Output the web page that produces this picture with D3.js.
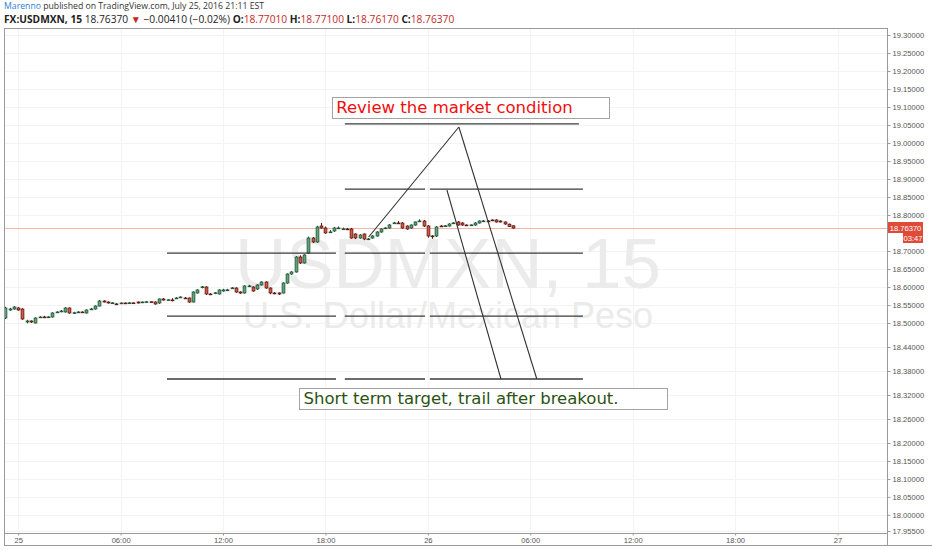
<!DOCTYPE html>
<html>
<head>
<meta charset="utf-8">
<script src="https://cdn.jsdelivr.net/npm/d3@7"></script>
<style>
    body { margin: 0; background: #fff; }
    svg { display: block; }
</style>
</head>
<body>
<div id="chart"></div>
<script>
// FX:USDMXN, 15 minute bars, first bar at 2016-07-24 23:15 (chart time)
var firstBar = "2016-07-24T23:15:00Z",
    barMinutes = 15;

var opens = [
    18.5139, 18.5361, 18.5389, 18.5417, 18.5389, 18.5028, 18.5056, 18.5000, 18.5150, 18.5167,
    18.5160, 18.5167, 18.5290, 18.5310, 18.5306, 18.5417, 18.5278, 18.5300, 18.5306, 18.5278,
    18.5380, 18.5389, 18.5472, 18.5611, 18.5583, 18.5556, 18.5530, 18.5550, 18.5556, 18.5550,
    18.5560, 18.5583, 18.5580, 18.5583, 18.5590, 18.5583, 18.5556, 18.5667, 18.5639, 18.5640,
    18.5690, 18.5715, 18.5694, 18.5694, 18.5583, 18.5833, 18.6000, 18.6000, 18.5806, 18.5833,
    18.5806, 18.5889, 18.5917, 18.5972, 18.5972, 18.5861, 18.5833, 18.6028, 18.6000, 18.5944,
    18.6056, 18.6139, 18.5972, 18.5833, 18.5833, 18.5833, 18.6111, 18.6361, 18.6417, 18.6833,
    18.6667, 18.6944, 18.7361, 18.7250, 18.7694, 18.7639, 18.7528, 18.7556, 18.7639, 18.7611,
    18.7611, 18.7611, 18.7472, 18.7361, 18.7472, 18.7333, 18.7361, 18.7417, 18.7528, 18.7639,
    18.7639, 18.7778, 18.7778, 18.7778, 18.7694, 18.7639, 18.7722, 18.7833, 18.7833, 18.7694,
    18.7417, 18.7417, 18.7694, 18.7694, 18.7694, 18.7778, 18.7806, 18.7778, 18.7722, 18.7722,
    18.7722, 18.7778, 18.7833, 18.7833, 18.7861, 18.7861, 18.7833, 18.7806, 18.7745, 18.7701
];

var highs = [
    18.5450, 18.5420, 18.5470, 18.5440, 18.5410, 18.5090, 18.5070, 18.5160, 18.5190, 18.5200,
    18.5190, 18.5300, 18.5330, 18.5360, 18.5440, 18.5430, 18.5310, 18.5330, 18.5320, 18.5380,
    18.5420, 18.5490, 18.5640, 18.5630, 18.5600, 18.5580, 18.5550, 18.5570, 18.5570, 18.5580,
    18.5570, 18.5600, 18.5600, 18.5610, 18.5600, 18.5600, 18.5680, 18.5690, 18.5660, 18.5690,
    18.5720, 18.5740, 18.5720, 18.5710, 18.5880, 18.5940, 18.6030, 18.6020, 18.5830, 18.5860,
    18.5940, 18.5950, 18.5950, 18.6000, 18.5990, 18.5880, 18.6050, 18.6060, 18.6020, 18.6080,
    18.6160, 18.6160, 18.5990, 18.5860, 18.5850, 18.6130, 18.6380, 18.6440, 18.6860, 18.6880,
    18.6910, 18.7400, 18.7390, 18.7700, 18.7780, 18.7680, 18.7580, 18.7670, 18.7680, 18.7650,
    18.7640, 18.7640, 18.7490, 18.7470, 18.7490, 18.7360, 18.7440, 18.7550, 18.7630, 18.7660,
    18.7750, 18.7810, 18.7830, 18.7800, 18.7710, 18.7740, 18.7820, 18.7880, 18.7860, 18.7720,
    18.7440, 18.7690, 18.7720, 18.7720, 18.7770, 18.7800, 18.7830, 18.7800, 18.7740, 18.7740,
    18.7800, 18.7850, 18.7860, 18.7860, 18.7880, 18.7880, 18.7850, 18.7820, 18.7760, 18.7710
];

var lows = [
    18.5110, 18.5340, 18.5370, 18.5340, 18.5090, 18.4990, 18.5000, 18.4990, 18.5140, 18.5140,
    18.5150, 18.5150, 18.5280, 18.5300, 18.5290, 18.5260, 18.5260, 18.5280, 18.5280, 18.5260,
    18.5360, 18.5370, 18.5460, 18.5570, 18.5540, 18.5540, 18.5510, 18.5540, 18.5530, 18.5540,
    18.5540, 18.5540, 18.5570, 18.5570, 18.5570, 18.5510, 18.5530, 18.5620, 18.5620, 18.5600,
    18.5670, 18.5700, 18.5670, 18.5560, 18.5570, 18.5820, 18.5960, 18.5780, 18.5780, 18.5800,
    18.5790, 18.5870, 18.5890, 18.5950, 18.5840, 18.5810, 18.5820, 18.6000, 18.5870, 18.5920,
    18.6040, 18.5950, 18.5800, 18.5800, 18.5780, 18.5820, 18.6090, 18.6340, 18.6400, 18.6640,
    18.6650, 18.6920, 18.7220, 18.7230, 18.7620, 18.7480, 18.7500, 18.7530, 18.7610, 18.7590,
    18.7590, 18.7340, 18.7330, 18.7340, 18.7300, 18.7310, 18.7340, 18.7400, 18.7510, 18.7620,
    18.7620, 18.7750, 18.7750, 18.7620, 18.7590, 18.7620, 18.7700, 18.7810, 18.7670, 18.7370,
    18.7340, 18.7390, 18.7670, 18.7670, 18.7680, 18.7750, 18.7700, 18.7700, 18.7700, 18.7700,
    18.7700, 18.7760, 18.7810, 18.7810, 18.7840, 18.7790, 18.7790, 18.7730, 18.7670, 18.7617
];

var closes = [
    18.5417, 18.5389, 18.5444, 18.5361, 18.5111, 18.5056, 18.5028, 18.5139, 18.5167, 18.5160,
    18.5170, 18.5278, 18.5306, 18.5333, 18.5417, 18.5278, 18.5285, 18.5306, 18.5300, 18.5361,
    18.5389, 18.5472, 18.5611, 18.5583, 18.5556, 18.5560, 18.5528, 18.5556, 18.5550, 18.5560,
    18.5556, 18.5556, 18.5583, 18.5590, 18.5583, 18.5528, 18.5667, 18.5639, 18.5645, 18.5630,
    18.5694, 18.5722, 18.5690, 18.5583, 18.5861, 18.5917, 18.6005, 18.5806, 18.5800, 18.5840,
    18.5917, 18.5917, 18.5920, 18.5975, 18.5861, 18.5833, 18.6028, 18.6030, 18.5889, 18.6056,
    18.6139, 18.5972, 18.5833, 18.5830, 18.5806, 18.6111, 18.6361, 18.6417, 18.6833, 18.6667,
    18.6889, 18.7361, 18.7250, 18.7667, 18.7639, 18.7500, 18.7530, 18.7639, 18.7640, 18.7615,
    18.7610, 18.7361, 18.7361, 18.7444, 18.7333, 18.7335, 18.7417, 18.7528, 18.7611, 18.7640,
    18.7722, 18.7780, 18.7775, 18.7639, 18.7611, 18.7722, 18.7806, 18.7835, 18.7694, 18.7417,
    18.7410, 18.7667, 18.7690, 18.7700, 18.7750, 18.7780, 18.7722, 18.7722, 18.7720, 18.7725,
    18.7778, 18.7833, 18.7835, 18.7830, 18.7860, 18.7806, 18.7806, 18.7750, 18.7678, 18.7637
];

// price scale labels as printed on the chart (18.75 sits under the last-price tag)
var priceTicks = [19.30, 19.25, 19.20, 19.15, 19.10, 19.05, 19.00, 18.95, 18.90, 18.85,
    18.80, 18.70, 18.65, 18.60, 18.55, 18.50, 18.44, 18.38, 18.32,
    18.26, 18.20, 18.15, 18.10, 18.05, 18.00, 17.955];

var timeTicks = ["2016-07-25T00:00:00Z", "2016-07-25T06:00:00Z", "2016-07-25T12:00:00Z",
    "2016-07-25T18:00:00Z", "2016-07-26T00:00:00Z", "2016-07-26T06:00:00Z",
    "2016-07-26T12:00:00Z", "2016-07-26T18:00:00Z", "2016-07-27T00:00:00Z"];
var timeLabels = ["25", "06:00", "12:00", "18:00", "26", "06:00", "12:00", "18:00", "27"];

// horizontal levels drawn by the author (price, from, to)
var levelPrice = [19.053, 18.872, 18.872, 18.694, 18.694, 18.694,
    18.519, 18.519, 18.519, 18.36, 18.36, 18.36];
var levelFrom = ["2016-07-25T19:08:00Z", "2016-07-25T19:08:00Z", "2016-07-26T00:07:00Z",
    "2016-07-25T08:43:00Z", "2016-07-25T19:08:00Z", "2016-07-26T00:07:00Z",
    "2016-07-25T08:43:00Z", "2016-07-25T19:08:00Z", "2016-07-26T00:07:00Z",
    "2016-07-25T08:43:00Z", "2016-07-25T19:08:00Z", "2016-07-26T00:07:00Z"];
var levelTo = ["2016-07-26T08:51:00Z", "2016-07-25T23:50:00Z", "2016-07-26T09:05:00Z",
    "2016-07-25T18:37:00Z", "2016-07-25T23:50:00Z", "2016-07-26T09:05:00Z",
    "2016-07-25T18:37:00Z", "2016-07-25T23:50:00Z", "2016-07-26T09:05:00Z",
    "2016-07-25T18:37:00Z", "2016-07-25T23:50:00Z", "2016-07-26T09:05:00Z"];

// trend lines (t1, p1) -> (t2, p2)
var trendT1 = ["2016-07-25T20:32:00Z", "2016-07-26T01:49:00Z", "2016-07-26T01:07:00Z"];
var trendP1 = [18.7389, 19.0444, 18.8694];
var trendT2 = ["2016-07-26T01:49:00Z", "2016-07-26T06:23:00Z", "2016-07-26T04:17:00Z"];
var trendP2 = [19.0444, 18.36, 18.36];

// text notes: box from (t1, p1) top-left to (t2, p2) bottom-right
var noteText = ["Review the market condition", "Short term target, trail after breakout."];
var noteT1 = ["2016-07-25T18:22:00Z", "2016-07-25T16:27:00Z"];
var noteP1 = [19.128, 18.3375];
var noteT2 = ["2016-07-26T10:36:00Z", "2016-07-26T14:00:00Z"];
var noteP2 = [19.069, 18.285];

var symbol = "FX:USDMXN, 15",
    author = "Marenno",
    published = " published on TradingView.com, July 25, 2016 21:11 EST",
    countdown = "03:47",
    watermark = "USDMXN, 15",
    description = "U.S. Dollar/Mexican Peso";

(function () {
    var width = 932,
        height = 550,
        plot = {left: 4, right: 887, top: 28, bottom: 533},
        upColor = "#5fa27a", upLine = "#225437",
        downColor = "#d75442", downLine = "#5b1a13",
        noteColors = ["#f20d0d", "#2b5212"],
        axisFont = "Liberation Sans, Arial, sans-serif";

    var parse = function (s) { return new Date(s); };

    var bars = closes.map(function (c, i) {
        return {
            t: new Date(parse(firstBar).getTime() + i * barMinutes * 60000),
            o: opens[i], h: highs[i], l: lows[i], c: c
        };
    });
    var last = bars[bars.length - 1],
        prev = bars[bars.length - 2];

    var x = d3.scaleUtc()
        .domain([parse("2016-07-24T23:10:00Z"), parse("2016-07-27T02:54:00Z")])
        .range([plot.left, plot.right]);

    // the printed price scale is not evenly spaced, so use a piecewise scale
    var y = d3.scaleLinear()
        .domain([17.955, 18.20, 18.50, 19.30])
        .range([531, 443, 323, 35]);

    var svg = d3.select("#chart").append("svg")
        .attr("width", width)
        .attr("height", height)
        .style("font-family", axisFont);

    svg.append("rect").attr("width", width).attr("height", height).attr("fill", "#fff");

    svg.append("clipPath").attr("id", "plotclip")
        .append("rect")
        .attr("x", plot.left).attr("y", plot.top)
        .attr("width", plot.right - plot.left).attr("height", plot.bottom - plot.top);

    var chart = svg.append("g").attr("clip-path", "url(#plotclip)");

    // grid
    chart.append("g").selectAll("line")
        .data(priceTicks).enter().append("line")
        .attr("x1", plot.left).attr("x2", plot.right)
        .attr("y1", function (d) { return Math.round(y(d)) + 0.5; })
        .attr("y2", function (d) { return Math.round(y(d)) + 0.5; })
        .attr("stroke", "#f3f3f3");

    chart.append("g").selectAll("line")
        .data(timeTicks).enter().append("line")
        .attr("y1", plot.top).attr("y2", plot.bottom)
        .attr("x1", function (d) { return Math.round(x(parse(d))) + 0.5; })
        .attr("x2", function (d) { return Math.round(x(parse(d))) + 0.5; })
        .attr("stroke", "#f3f3f3");

    // watermark
    chart.append("text")
        .attr("x", 448).attr("y", 288)
        .attr("text-anchor", "middle")
        .attr("font-size", 71)
        .attr("fill", "#ebebeb")
        .text(watermark);
    chart.append("text")
        .attr("x", 448).attr("y", 328)
        .attr("text-anchor", "middle")
        .attr("font-size", 36)
        .attr("fill", "#ebebeb")
        .text(description);

    // last price line
    chart.append("line")
        .attr("x1", plot.left).attr("x2", plot.right)
        .attr("y1", Math.round(y(last.c)) + 0.5).attr("y2", Math.round(y(last.c)) + 0.5)
        .attr("stroke", "#f6b4aa");

    // candles
    var candle = chart.append("g").selectAll("g")
        .data(bars).enter().append("g");

    candle.append("line")
        .attr("x1", function (d) { return Math.round(x(d.t)) + 0.5; })
        .attr("x2", function (d) { return Math.round(x(d.t)) + 0.5; })
        .attr("y1", function (d) { return y(d.h); })
        .attr("y2", function (d) { return y(d.l); })
        .attr("stroke", function (d) { return d.c >= d.o ? upLine : downLine; });

    candle.append("rect")
        .attr("x", function (d) { return Math.round(x(d.t)) - 0.9; })
        .attr("width", 2.8)
        .attr("y", function (d) { return Math.min(y(d.o), y(d.c)); })
        .attr("height", function (d) { return Math.max(0.8, Math.abs(y(d.o) - y(d.c))); })
        .attr("fill", function (d) { return d.c >= d.o ? upColor : downColor; })
        .attr("stroke", function (d) { return d.c >= d.o ? upLine : downLine; })
        .attr("stroke-width", 0.8);

    // levels
    chart.append("g").selectAll("line")
        .data(levelPrice).enter().append("line")
        .attr("x1", function (d, i) { return x(parse(levelFrom[i])); })
        .attr("x2", function (d, i) { return x(parse(levelTo[i])); })
        .attr("y1", function (d) { return y(d); })
        .attr("y2", function (d) { return y(d); })
        .attr("stroke", "#3a3a3a")
        .attr("stroke-width", 1.4);

    // trend lines
    chart.append("g").selectAll("line")
        .data(trendP1).enter().append("line")
        .attr("x1", function (d, i) { return x(parse(trendT1[i])); })
        .attr("y1", function (d) { return y(d); })
        .attr("x2", function (d, i) { return x(parse(trendT2[i])); })
        .attr("y2", function (d, i) { return y(trendP2[i]); })
        .attr("stroke", "#333")
        .attr("stroke-width", 1.1);

    // notes
    var note = chart.append("g").selectAll("g")
        .data(noteText).enter().append("g");

    note.append("rect")
        .attr("x", function (d, i) { return Math.round(x(parse(noteT1[i]))) + 0.5; })
        .attr("y", function (d, i) { return Math.round(y(noteP1[i])) + 0.5; })
        .attr("width", function (d, i) { return Math.round(x(parse(noteT2[i])) - x(parse(noteT1[i]))); })
        .attr("height", function (d, i) { return Math.round(y(noteP2[i]) - y(noteP1[i])); })
        .attr("fill", "#fff")
        .attr("stroke", "#a3a3a3");

    note.append("text")
        .attr("x", function (d, i) { return x(parse(noteT1[i])) + 4.5; })
        .attr("y", function (d, i) { return y(noteP2[i]) - 5; })
        .attr("font-family", "DejaVu Sans, Verdana, sans-serif")
        .attr("font-size", 16.5)
        .attr("fill", function (d, i) { return noteColors[i]; })
        .text(function (d) { return d; });

    // frame
    svg.append("rect")
        .attr("x", plot.left + 0.5).attr("y", plot.top + 0.5)
        .attr("width", plot.right - plot.left).attr("height", plot.bottom - plot.top)
        .attr("fill", "none")
        .attr("stroke", "#9a9a9a");
    svg.append("line")
        .attr("x1", plot.left + 0.5).attr("x2", width)
        .attr("y1", 545.5).attr("y2", 545.5)
        .attr("stroke", "#9a9a9a");
    svg.append("line")
        .attr("x1", plot.left + 0.5).attr("x2", plot.left + 0.5)
        .attr("y1", plot.bottom).attr("y2", 546)
        .attr("stroke", "#9a9a9a");

    // price axis
    var yAxis = d3.axisRight(y)
        .tickValues(priceTicks)
        .tickFormat(d3.format(".5f"))
        .tickSize(3)
        .tickPadding(2);

    var ya = svg.append("g")
        .attr("transform", "translate(" + (plot.right + 0.5) + ",0)")
        .call(yAxis);
    ya.select(".domain").attr("stroke", "#9a9a9a").attr("d", "M0," + plot.top + "V546");
    ya.selectAll(".tick line").attr("stroke", "#9a9a9a");
    ya.selectAll(".tick text")
        .attr("fill", "#555")
        .attr("font-size", 7.6)
        .attr("font-family", axisFont);

    // time axis
    var xAxis = d3.axisBottom(x)
        .tickValues(timeTicks.map(parse))
        .tickFormat(function (d, i) { return timeLabels[i]; })
        .tickSize(2)
        .tickPadding(2);

    var xa = svg.append("g")
        .attr("transform", "translate(0," + (plot.bottom + 0.5) + ")")
        .call(xAxis);
    xa.select(".domain").remove();
    xa.selectAll(".tick line").attr("stroke", "#9a9a9a");
    xa.selectAll(".tick text")
        .attr("fill", "#555")
        .attr("font-size", 7.6)
        .attr("font-family", axisFont);

    // last price label + countdown
    var ly = Math.round(y(last.c));
    svg.append("rect")
        .attr("x", plot.right + 1).attr("y", ly - 6)
        .attr("width", 35).attr("height", 11)
        .attr("fill", "#df4b38");
    svg.append("text")
        .attr("x", plot.right + 18.5).attr("y", ly + 2.5)
        .attr("text-anchor", "middle")
        .attr("font-size", 7.6)
        .attr("fill", "#fff")
        .text(d3.format(".5f")(last.c));
    svg.append("rect")
        .attr("x", plot.right + 16).attr("y", ly + 5)
        .attr("width", 20).attr("height", 10)
        .attr("fill", "#df4b38");
    svg.append("text")
        .attr("x", plot.right + 26).attr("y", ly + 12.5)
        .attr("text-anchor", "middle")
        .attr("font-size", 7.6)
        .attr("fill", "#fff")
        .text(countdown);

    // header
    var headFont = "Open Sans, Liberation Sans, sans-serif",
        red = "#c6281f",
        fmt = d3.format(".5f"),
        change = last.c - prev.c,
        sign = change < 0 ? "\u2212" : "+";

    var h1 = svg.append("text")
        .attr("x", 4).attr("y", 9)
        .attr("font-family", headFont)
        .attr("font-size", 8.7)
        .attr("fill", "#333");
    h1.append("tspan").attr("fill", "#2f80d0").text(author);
    h1.append("tspan").text(published);

    var h2 = svg.append("text")
        .attr("x", 4).attr("y", 22.5)
        .attr("font-family", headFont)
        .attr("font-size", 10.2)
        .attr("fill", "#222");
    h2.append("tspan").attr("font-weight", "bold").text(symbol);
    h2.append("tspan").text(" " + fmt(last.c) + " ");
    h2.append("tspan").attr("fill", red).text("\u25BC");
    h2.append("tspan").text(" " + sign + fmt(Math.abs(change)) +
        " (" + sign + Math.abs(change / prev.c * 100).toFixed(2) + "%) ");
    [["O:", last.o], [" H:", last.h], [" L:", last.l], [" C:", last.c]].forEach(function (p) {
        h2.append("tspan").attr("font-weight", "bold").text(p[0]);
        h2.append("tspan").attr("fill", red).text(fmt(p[1]));
    });
})();
</script>
</body>
</html>
